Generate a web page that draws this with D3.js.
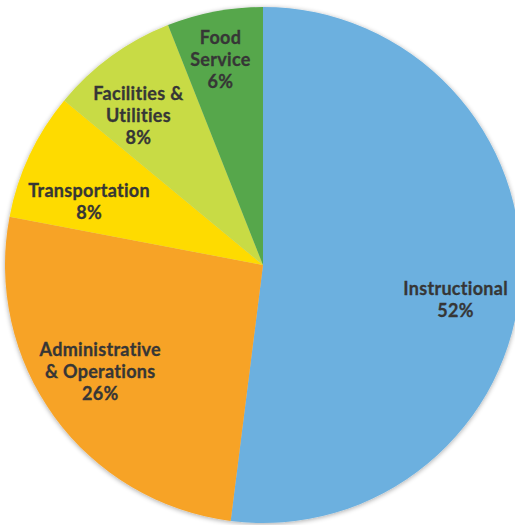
<!DOCTYPE html>
<html>
<head>
<meta charset="utf-8">
<script src="https://cdn.jsdelivr.net/npm/d3@7"></script>
<style>
	body { margin: 0; background: #fff; }
	svg { display: block; }
	text { font-family: Lato, "Open Sans", sans-serif; font-weight: bold; fill: #363636;
		font-variant-ligatures: none; font-feature-settings: "liga" 0; letter-spacing: 0.3px; }
</style>
</head>
<body>
<div id="chart"></div>
<script>
// slices, clockwise from 12 o'clock
var categories = ['Instructional', 'Administrative & Operations', 'Transportation', 'Facilities & Utilities', 'Food Service'];
var values = [52, 26, 8, 8, 6];
var labelLines = [
	['Instructional', '52%'],
	['Administrative', '& Operations', '26%'],
	['Transportation', '8%'],
	['Facilities &', 'Utilities', '8%'],
	['Food', 'Service', '6%']
];
var colors = ['#6cb0df', '#f7a328', '#fedb00', '#c8db44', '#56a74b'];

var width = 515, height = 525;
var cx = 263, cy = 265, r = 258;

// small hand offsets so the labels sit where the original put them
var nudge = [[-2, 22], [-5, -8], [2.5, 20], [-10, 8], [-6, -13.5]];

var svg = d3.select('#chart').append('svg')
	.attr('width', width)
	.attr('height', height);

var defs = svg.append('defs');
var shadow = defs.append('filter').attr('id', 'shadow')
	.attr('x', '-10%').attr('y', '-10%').attr('width', '120%').attr('height', '120%');
shadow.append('feGaussianBlur').attr('in', 'SourceAlpha').attr('stdDeviation', 2.5);
shadow.append('feOffset').attr('dx', 0).attr('dy', 1).attr('result', 'blur');
shadow.append('feComponentTransfer').append('feFuncA').attr('type', 'linear').attr('slope', 0.35);
var merge = shadow.append('feMerge');
merge.append('feMergeNode');
merge.append('feMergeNode').attr('in', 'SourceGraphic');

var data = categories.map(function(c, i) {
	return { name: c, value: values[i], lines: labelLines[i], color: colors[i], nudge: nudge[i] };
});

var pie = d3.pie().sort(null).value(function(d) { return d.value; });
var arc = d3.arc().innerRadius(0).outerRadius(r);
var labelArc = d3.arc().innerRadius(195).outerRadius(195);

var g = svg.append('g').attr('transform', 'translate(' + cx + ',' + cy + ')');

g.append('g').attr('filter', 'url(#shadow)')
	.selectAll('path').data(pie(data))
	.enter().append('path')
		.attr('d', arc)
		.attr('fill', function(d) { return d.data.color; });

var lineH = 22;
var labels = g.selectAll('.label').data(pie(data))
	.enter().append('text')
		.attr('class', 'label')
		.attr('text-anchor', 'middle')
		.style('font-size', '18px')
		.style('stroke', '#363636')
		.style('stroke-width', '0.3px')
		.attr('transform', function(d) {
			var c = labelArc.centroid(d);
			return 'translate(' + (c[0] + d.data.nudge[0]) + ',' + (c[1] + d.data.nudge[1]) + ')';
		});

labels.selectAll('tspan').data(function(d) {
		var n = d.data.lines.length;
		return d.data.lines.map(function(t, i) { return { t: t, dy: (i - (n - 1) / 2) * lineH }; });
	})
	.enter().append('tspan')
		.attr('x', 0)
		.attr('y', function(l) { return l.dy; })
		.attr('dy', '0.35em')
		.text(function(l) { return l.t; });
</script>
</body>
</html>
